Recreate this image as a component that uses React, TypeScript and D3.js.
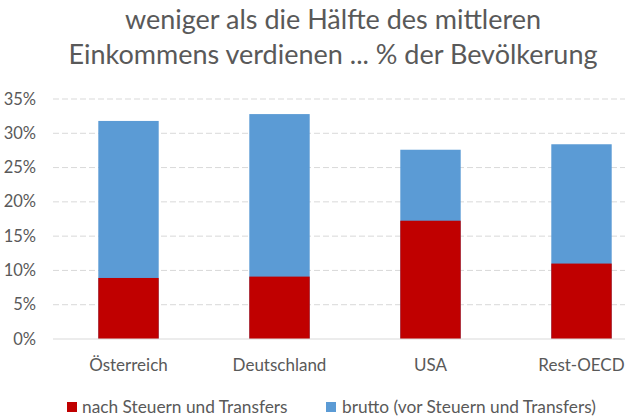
import React from "react";
import * as d3 from "d3";

const categories = ["Österreich", "Deutschland", "USA", "Rest-OECD"];
const brutto = [31.8, 32.8, 27.6, 28.4];
const netto = [8.9, 9.1, 17.25, 11.0];
const yTicks = [0, 5, 10, 15, 20, 25, 30, 35];
const titleLines = [
  "weniger als die Hälfte des mittleren",
  "Einkommens verdienen ... % der Bevölkerung",
];
const seriesNames = ["nach Steuern und Transfers", "brutto (vor Steuern und Transfers)"];

const W = 625;
const H = 420;
const FONT = "Lato, 'Open Sans', sans-serif";
const TEXT = "#595959";
const BLUE = "#5B9BD5";
const RED = "#C00000";

export default function App() {
  const x = d3.scaleBand<string>().domain(categories).range([53, 657]).paddingInner(0.6).paddingOuter(0.3);
  const y = d3.scaleLinear().domain([0, 35]).range([339, 99]);
  const bw = x.bandwidth();

  return (
    <svg width={W} height={H} style={{ position: "absolute", left: 0, top: 0, background: "#fff" }}>
      <rect width={W} height={H} fill="#fff" />
      {titleLines.map((t, i) => (
        <text key={i} x={333} y={29 + i * 35} textAnchor="middle" fontFamily={FONT} fontSize={27} fill={TEXT}>
          {t}
        </text>
      ))}
      {yTicks.map((v) =>
        v === 0 ? null : (
          <line key={"g" + v} x1={53} x2={W} y1={y(v)} y2={y(v)} stroke="#d9d9d9" strokeWidth={1} strokeDasharray="6,3" />
        )
      )}
      {yTicks.map((v) => (
        <text key={"t" + v} x={36} y={y(v) + 5.5} textAnchor="end" fontFamily={FONT} fontSize={16.5} fill={TEXT}>
          {v + "%"}
        </text>
      ))}
      {categories.map((c, i) => (
        <g key={c}>
          <rect x={x(c)} y={y(brutto[i])} width={bw} height={y(0) - y(brutto[i])} fill={BLUE} />
          <rect x={x(c)} y={y(netto[i])} width={bw} height={y(0) - y(netto[i])} fill={RED} />
          <text x={(x(c) as number) + bw / 2} y={371} textAnchor="middle" fontFamily={FONT} fontSize={17} fill={TEXT}>
            {c}
          </text>
        </g>
      ))}
      <line x1={53} x2={W} y1={y(0)} y2={y(0)} stroke="#d9d9d9" strokeWidth={1} />
      <rect x={67} y={402} width={10} height={10} fill={RED} />
      <text x={82} y={413} fontFamily={FONT} fontSize={17.3} fill={TEXT}>
        {seriesNames[0]}
      </text>
      <rect x={326} y={402} width={10} height={10} fill={BLUE} />
      <text x={342} y={413} fontFamily={FONT} fontSize={17.3} fill={TEXT}>
        {seriesNames[1]}
      </text>
    </svg>
  );
}
